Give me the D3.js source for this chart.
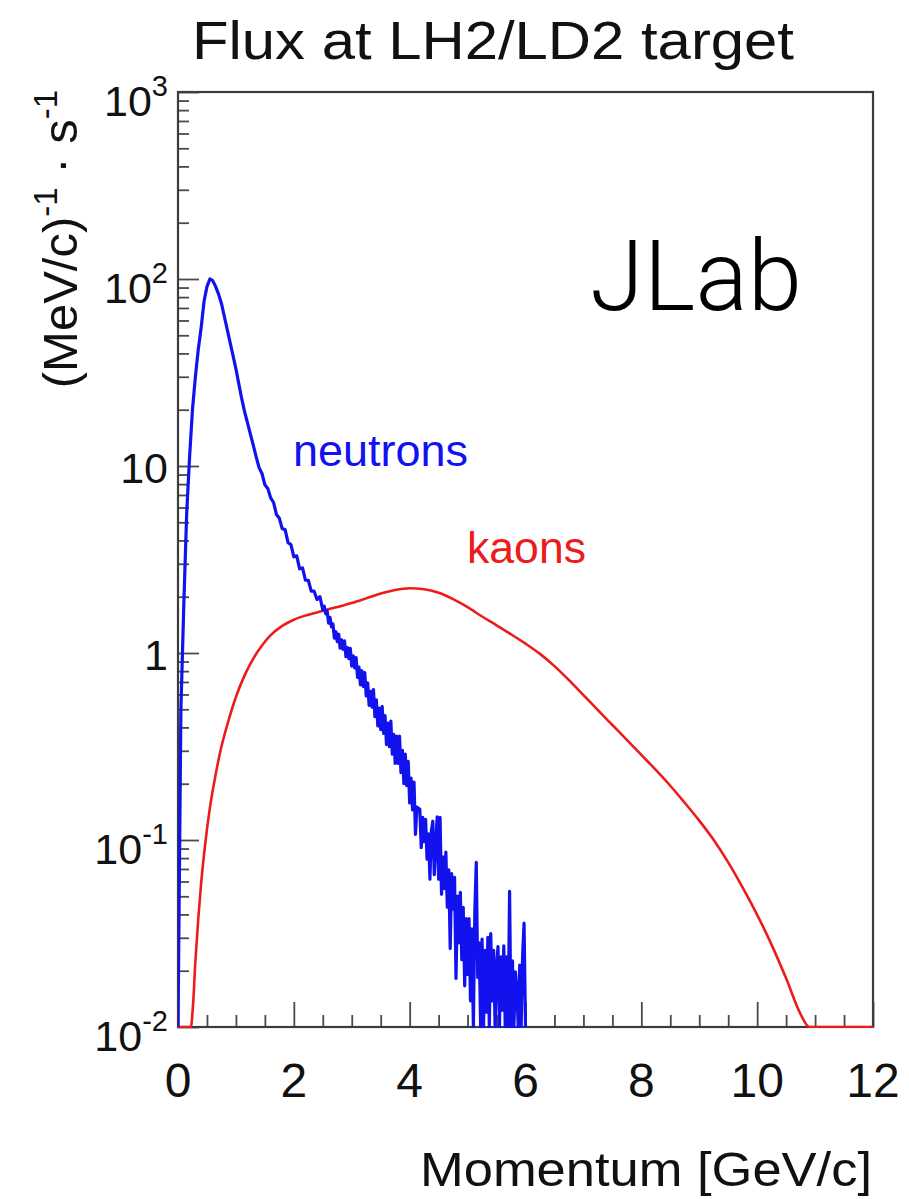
<!DOCTYPE html>
<html><head><meta charset="utf-8">
<script src="https://cdn.jsdelivr.net/npm/d3@7"></script>
<style>body{margin:0;background:#fff} svg{display:block}</style>
</head><body>
<svg id="c" width="909" height="1199"></svg>
<script>
// ---------------- data ----------------
// neutrons: 0 - 2.45 GeV/c in 0.05 bins, then 2.5 - 6.0 GeV/c in 0.025 bins
const neutronLowStart = 0, neutronLowBin = 0.05;
const neutronFluxLow = [
 0.004, 0.5, 1.8, 5.6, 11.2, 20, 30, 42, 55, 76,
 91, 100, 98, 91, 83, 74, 63, 53.7, 45.7, 38.9,
 33.1, 27.5, 22.9, 19.5, 17.0, 14.8, 12.9, 11.2, 9.8, 9.12,
 7.94, 7.59, 6.76, 6.38, 5.50, 5.25, 4.62, 4.57, 3.89, 3.80,
 3.27, 3.31, 2.82, 2.85, 2.45, 2.45, 2.14, 2.14, 1.93, 2.00
];
const neutronHighStart = 2.5, neutronHighBin = 0.025;
const neutronFluxHigh = [
 1.70, 1.78, 1.62, 1.68, 1.445, 1.55, 1.38, 1.43, 1.20, 1.30,
 1.15, 1.26, 1.06, 1.175, 1.047, 1.16, 0.955, 1.07, 0.933, 1.06,
 0.851, 0.966, 0.832, 0.944, 0.741, 0.841, 0.676, 0.804, 0.661, 0.785,
 0.589, 0.692, 0.525, 0.624, 0.513, 0.638, 0.457, 0.562, 0.407, 0.507,
 0.389, 0.519, 0.372, 0.462, 0.324, 0.422, 0.316, 0.432, 0.288, 0.367,
 0.257, 0.359, 0.257, 0.359, 0.229, 0.302, 0.200, 0.288, 0.195, 0.263,
 0.158, 0.214, 0.145, 0.204, 0.107, 0.150, 0.148, 0.146, 0.091, 0.132,
 0.098, 0.129, 0.079, 0.108, 0.0617, 0.112, 0.126, 0.0653, 0.0955, 0.133,
 0.0617, 0.132, 0.0513, 0.0813, 0.055, 0.0861, 0.0437, 0.0692, 0.0263, 0.0661,
 0.0427, 0.0631, 0.0182, 0.0501, 0.0282, 0.0525, 0.0229, 0.0437, 0.0166, 0.038,
 0.0191, 0.038, 0.0138, 0.0335, 0.005, 0.0412, 0.0759, 0.0184, 0.0282, 0.005,
 0.0295, 0.005, 0.0257, 0.012, 0.0302, 0.005, 0.0316, 0.0138, 0.0257, 0.005,
 0.0209, 0.0269, 0.005, 0.0237, 0.0123, 0.0272, 0.005, 0.0237, 0.005, 0.0531,
 0.005, 0.0226, 0.005, 0.0197, 0.0155, 0.005, 0.0214, 0.005, 0.024, 0.0359,
 0.005
];
const kaonP = [0.00, 0.22, 0.26, 0.30, 0.35, 0.40, 0.47, 0.55, 0.65, 0.75, 0.85,
 1.00, 1.15, 1.30, 1.45, 1.60, 1.80, 2.00, 2.25, 2.50, 2.75, 3.00, 3.25, 3.50, 3.75,
 4.00, 4.25, 4.50, 4.75, 5.00, 5.25, 5.50, 5.75, 6.00, 6.25, 6.50, 6.75, 7.00, 7.25,
 7.50, 7.75, 8.00, 8.25, 8.50, 8.75, 9.00, 9.25, 9.50, 9.75, 10.00, 10.25, 10.50,
 10.75, 10.90, 11.00, 12.00];
const kaonFlux = [0.001, 0.00708, 0.01318, 0.02239, 0.0380, 0.0589, 0.0955, 0.148, 0.224, 0.316, 0.412,
 0.582, 0.759, 0.933, 1.096, 1.245, 1.396, 1.507, 1.603, 1.683, 1.762, 1.849, 1.959, 2.080, 2.173,
 2.218, 2.193, 2.099, 1.941, 1.758, 1.567, 1.406, 1.259, 1.122, 0.989, 0.851, 0.716, 0.596, 0.495,
 0.412, 0.343, 0.285, 0.237, 0.195, 0.158, 0.127, 0.100, 0.0759, 0.0556, 0.0398, 0.0275, 0.0182,
 0.0117, 0.0089, 0.001, 0.001];
const xTickValues = [0, 2, 4, 6, 8, 10, 12];
const xTickLabels = ["0", "2", "4", "6", "8", "10", "12"];
const yTickValues = [0.01, 0.1, 1, 10, 100, 1000];
const yTickBase = ["10", "10", "1", "10", "10", "10"];
const yTickExp  = ["-2", "-1", "", "", "2", "3"];

// ---------------- layout ----------------
const L = 178, R = 873, T = 92, B = 1027;
const svg = d3.select("#c");
const FONT = "'Liberation Sans', Arial, Helvetica, sans-serif";
const BLUE = "#1212ee", RED = "#ec1c1c";

const x = d3.scaleLinear().domain([0, 12]).range([L, R]);
const y = d3.scaleLog().domain([0.01, 1000]).range([B, T]).clamp(true);

svg.append("defs").append("clipPath").attr("id", "clip")
  .append("rect").attr("x", L).attr("y", T - 2).attr("width", R - L).attr("height", B - T + 3);

// axes ticks (inward, ROOT style)
const xMinor = d3.range(0, 12.001, 0.5).filter(v => Math.abs(v % 2) > 1e-6);
const gx = svg.append("g").attr("transform", `translate(0,${B})`);
gx.call(d3.axisBottom(x).tickValues(xTickValues).tickSize(-25).tickFormat(""));
const gxm = svg.append("g").attr("transform", `translate(0,${B})`);
gxm.call(d3.axisBottom(x).tickValues(xMinor).tickSize(-12).tickFormat(""));

const yMinor = [];
[0.01, 0.1, 1, 10, 100].forEach(d => { for (let k = 2; k <= 9; k++) yMinor.push(d * k); });
const gy = svg.append("g").attr("transform", `translate(${L},0)`);
gy.call(d3.axisLeft(y).tickValues(yTickValues).tickSize(-21).tickFormat(""));
const gym = svg.append("g").attr("transform", `translate(${L},0)`);
gym.call(d3.axisLeft(y).tickValues(yMinor).tickSize(-11).tickFormat(""));

[gx, gxm, gy, gym].forEach(g => {
  g.select(".domain").remove();
  g.selectAll(".tick line").attr("stroke", "#4a4a4a").attr("stroke-width", 1.8);
});

// frame
svg.append("rect").attr("x", L).attr("y", T).attr("width", R - L).attr("height", B - T)
  .attr("fill", "none").attr("stroke", "#3c3c3c").attr("stroke-width", 2.2);

// x labels
svg.append("g").selectAll("text").data(xTickValues).join("text")
  .attr("x", d => x(d)).attr("y", B + 70)
  .attr("text-anchor", "middle").attr("font-family", FONT).attr("font-size", 48)
  .attr("fill", "#111").text((d, i) => xTickLabels[i]);

// y labels
const yl = svg.append("g").selectAll("text").data(yTickValues).join("text")
  .attr("x", 168).attr("y", (d, i) => y(d) + (yTickExp[i] ? 24 : 17))
  .attr("text-anchor", "end").attr("font-family", FONT).attr("font-size", 43)
  .attr("fill", "#111");
yl.each(function (d, i) {
  const t = d3.select(this);
  t.append("tspan").text(yTickBase[i]);
  if (yTickExp[i]) t.append("tspan").attr("dy", -20).attr("font-size", 29).text(yTickExp[i]);
});

// curves
const plot = svg.append("g").attr("clip-path", "url(#clip)");
const kaonLine = d3.line().x((d, i) => x(kaonP[i])).y(d => y(d)).curve(d3.curveMonotoneX);
plot.append("path").attr("d", kaonLine(kaonFlux))
  .attr("fill", "none").attr("stroke", RED).attr("stroke-width", 2.6).attr("stroke-linejoin", "round");
const neutronPts = neutronFluxLow.map((v, i) => [neutronLowStart + i * neutronLowBin, v])
  .concat(neutronFluxHigh.map((v, i) => [neutronHighStart + i * neutronHighBin, v]));
const neutronLine = d3.line().x(d => x(d[0])).y(d => y(d[1]));
plot.append("path").attr("d", neutronLine(neutronPts))
  .attr("fill", "none").attr("stroke", BLUE).attr("stroke-width", 3.2).attr("stroke-linejoin", "round");

// texts
function txt(s, xx, yy, size, w, opts = {}) {
  const t = svg.append("text").attr("x", xx).attr("y", yy).attr("font-family", opts.family || FONT)
    .attr("font-size", size).attr("fill", opts.fill || "#111").text(s);
  if (opts.weight) t.attr("font-weight", opts.weight);
  if (w) t.attr("textLength", w).attr("lengthAdjust", "spacingAndGlyphs");
  return t;
}
txt("Flux at LH2/LD2 target", 192, 59, 54, 602);
txt("JLab", 590, 310, 98, 212, { family: "Roboto, 'Liberation Sans', sans-serif", weight: 300, fill: "#000" });
txt("neutrons", 293, 466, 44, 175, { fill: BLUE });
txt("kaons", 467, 563, 44, 119, { fill: RED });
txt("Momentum [GeV/c]", 420, 1186, 49, 452);

// y title (rotated)
const yt = svg.append("text").attr("transform", "translate(77,90) rotate(-90)")
  .attr("text-anchor", "end").attr("font-family", FONT).attr("font-size", 49).attr("fill", "#111");
yt.append("tspan").text("(MeV/c)");
yt.append("tspan").attr("dy", -20).attr("font-size", 33).text("-1");
yt.append("tspan").attr("dy", 20).text(" \u00B7 s");
yt.append("tspan").attr("dy", -20).attr("font-size", 33).text("-1");
</script>
</body></html>
